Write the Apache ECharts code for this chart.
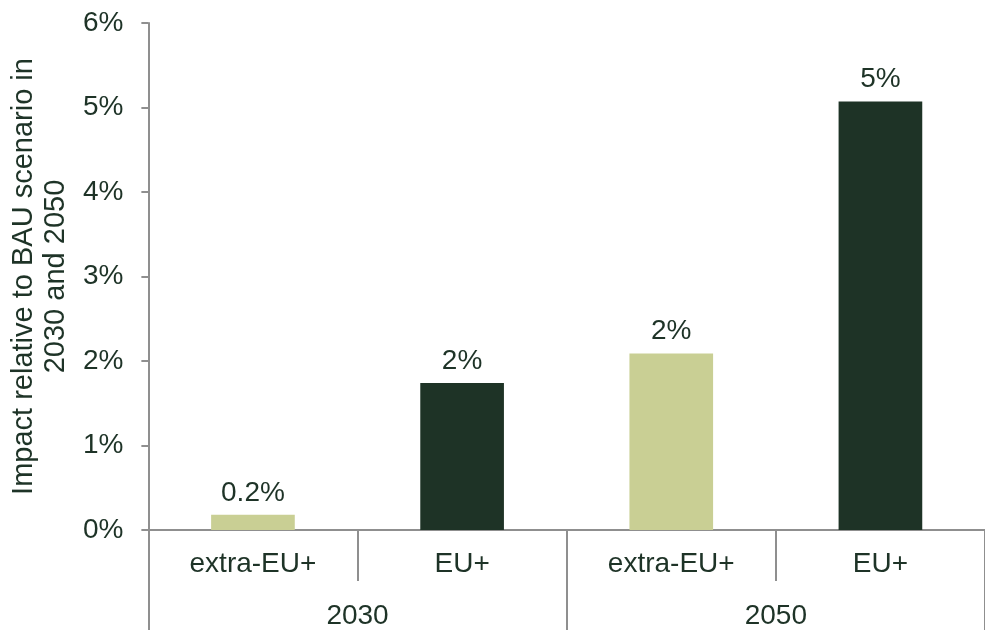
<!DOCTYPE html>
<html>
<head>
<meta charset="utf-8">
<script src="https://cdn.jsdelivr.net/npm/echarts@6/dist/echarts.min.js"></script>
<style>html,body{margin:0;padding:0;background:#fff}#c{width:985px;height:630px}</style>
</head>
<body>
<div id="c"></div>
<script>
const categories = ['extra-EU+', 'EU+', 'extra-EU+', 'EU+'];
const groups = ['2030', '2050'];
const values = [0.18, 1.74, 2.09, 5.07];
const valueLabels = ['0.2%', '2%', '2%', '5%'];
const yTicks = [0, 1, 2, 3, 4, 5, 6];
const barColors = ['#c9cf94', '#1e3326', '#c9cf94', '#1e3326'];
const yName = 'Impact relative to BAU scenario in\n2030 and 2050';

const FONT = 'Liberation Sans';
const TXT = '#1e3327';
const AX = '#8f8f8f';
const FS = 28;

const chart = echarts.init(document.getElementById('c'), null, {renderer: 'canvas'});
chart.setOption({
  animation: false,
  backgroundColor: '#fff',
  grid: {left: 148, right: -3, top: 23, bottom: 100, containLabel: false},
  xAxis: [{
    type: 'category',
    data: categories,
    position: 'bottom',
    axisLine: {show: true, lineStyle: {color: AX, width: 2}},
    axisTick: {show: true, length: 51, alignWithLabel: false, lineStyle: {color: AX, width: 2}},
    axisLabel: {margin: 20, fontFamily: FONT, fontSize: FS, color: TXT, interval: 0}
  }, {
    type: 'category',
    data: groups,
    position: 'bottom',
    axisLine: {show: false},
    axisTick: {show: true, length: 100, lineStyle: {color: AX, width: 2}},
    axisLabel: {margin: 72, fontFamily: FONT, fontSize: FS, color: TXT, interval: 0}
  }],
  yAxis: {
    type: 'value',
    min: yTicks[0],
    max: yTicks[yTicks.length - 1],
    interval: 1,
    name: yName,
    nameLocation: 'middle',
    nameGap: 76,
    nameTextStyle: {fontFamily: FONT, fontSize: 29, color: TXT, lineHeight: 32, align: 'center'},
    axisLine: {show: true, lineStyle: {color: AX, width: 2}},
    axisTick: {show: true, length: 7, lineStyle: {color: AX, width: 2}},
    splitLine: {show: false},
    axisLabel: {margin: 25, fontFamily: FONT, fontSize: FS, color: TXT, formatter: '{value}%'}
  },
  series: [{
    type: 'bar',
    xAxisIndex: 0,
    barWidth: '40%',
    data: values.map((v, i) => ({value: v, itemStyle: {color: barColors[i]}})),
    label: {
      show: true,
      position: 'top',
      distance: 8,
      fontFamily: FONT,
      fontSize: FS,
      color: TXT,
      formatter: p => valueLabels[p.dataIndex]
    }
  }]
});
</script>
</body>
</html>
